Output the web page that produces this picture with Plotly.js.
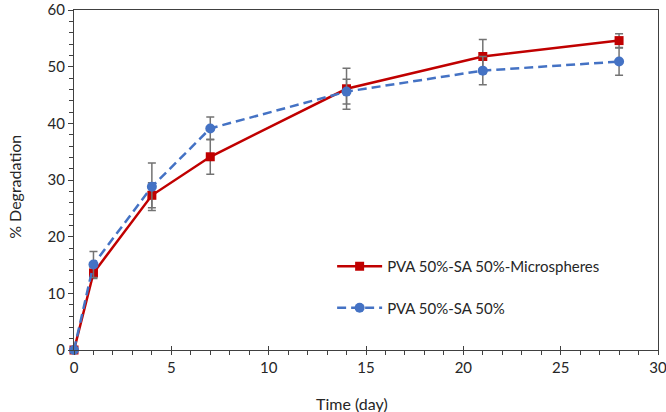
<!DOCTYPE html>
<html>
<head>
<meta charset="utf-8">
<script src="https://cdn.plot.ly/plotly-3.0.1.min.js"></script>
<style>
    html, body { margin: 0; padding: 0; background: #fff; }
    #chart { width: 666px; height: 412px; }
</style>
</head>
<body>
<div id="chart"></div>
<script>
// Data
const days = [0, 1, 4, 7, 14, 21, 28];

const microName = 'PVA 50%-SA 50%-Microspheres';
const microValues = [0, 13.6, 27.3, 34.1, 46.1, 51.8, 54.6];
const microErrors = [0, 1.0, 2.2, 3.1, 3.6, 3.0, 1.2];

const blendName = 'PVA 50%-SA 50%';
const blendValues = [0, 15.1, 28.8, 39.1, 45.6, 49.3, 50.9];
const blendErrors = [0, 2.3, 4.2, 2.0, 2.2, 2.5, 2.4];

const xTitle = 'Time (day)';
const yTitle = '% Degradation';

// Styling
const COLORS = {
    red: '#C00000',
    blue: '#4472C4',
    errorBar: '#737373',
    axis: '#404040',
    text: '#262626'
};
const FONT = 'Lato, "Open Sans", sans-serif';

function errorBars(values) {
    return {
        type: 'data',
        array: values,
        visible: true,
        color: COLORS.errorBar,
        thickness: 1.5,
        width: 4
    };
}

const traces = [
    {
        x: days,
        y: microValues,
        name: microName,
        legendgroup: 'a',
        type: 'scatter',
        mode: 'lines+markers',
        line: { color: COLORS.red, width: 2.5 },
        marker: { symbol: 'square', size: 9, color: COLORS.red },
        error_y: errorBars(microErrors),
        cliponaxis: false
    },
    {
        x: days,
        y: blendValues,
        name: blendName,
        legendgroup: 'b',
        type: 'scatter',
        mode: 'lines+markers',
        line: { color: COLORS.blue, width: 2.5, dash: '9px,5px' },
        marker: { symbol: 'circle', size: 10, color: COLORS.blue },
        error_y: errorBars(blendErrors),
        cliponaxis: false
    },
    // invisible trace to carry the crossing major ticks on the x axis
    {
        x: [0],
        y: [0],
        xaxis: 'x2',
        mode: 'markers',
        marker: { opacity: 0 },
        showlegend: false,
        hoverinfo: 'skip'
    }
];

const layout = {
    width: 666,
    height: 412,
    margin: { l: 74, r: 8, t: 10, b: 62 },
    paper_bgcolor: '#fff',
    plot_bgcolor: '#fff',
    font: { family: FONT, size: 15, color: COLORS.text },
    showlegend: true,
    legend: {
        x: 0.442,
        y: 0.294,
        xanchor: 'left',
        yanchor: 'top',
        bgcolor: 'rgba(0,0,0,0)',
        font: { family: FONT, size: 15, color: COLORS.text },
        traceorder: 'grouped',
        tracegroupgap: 19,
        itemwidth: 45
    },
    xaxis: {
        range: [0, 30],
        dtick: 5,
        showgrid: false,
        zeroline: false,
        showline: true,
        linecolor: COLORS.axis,
        linewidth: 1,
        mirror: true,
        ticks: 'outside',
        ticklen: 4,
        tickcolor: COLORS.axis,
        minor: { dtick: 1, ticks: 'outside', ticklen: 4, tickcolor: COLORS.axis },
        tickfont: { size: 15 },
        ticklabeloverflow: 'allow'
    },
    xaxis2: {
        overlaying: 'x',
        anchor: 'y',
        side: 'bottom',
        range: [0, 30],
        dtick: 5,
        showgrid: false,
        zeroline: false,
        showline: false,
        showticklabels: false,
        ticks: 'inside',
        ticklen: 4,
        tickcolor: COLORS.axis
    },
    yaxis: {
        range: [0, 60],
        dtick: 10,
        showgrid: false,
        zeroline: false,
        showline: true,
        linecolor: COLORS.axis,
        linewidth: 1,
        mirror: true,
        ticks: 'outside',
        ticklen: 5,
        tickcolor: COLORS.axis,
        minor: { dtick: 2, ticks: 'outside', ticklen: 4, tickcolor: COLORS.axis },
        tickfont: { size: 15 },
        ticklabeloverflow: 'allow'
    },
    // axis titles sit where the original chart put them (not exactly centred)
    annotations: [
        {
            text: xTitle,
            xref: 'paper', yref: 'paper',
            x: 0.476, y: -0.156,
            xanchor: 'center', yanchor: 'middle',
            showarrow: false,
            font: { size: 16, color: COLORS.text }
        },
        {
            text: yTitle,
            xref: 'paper', yref: 'paper',
            x: -0.101, y: 0.48,
            xanchor: 'center', yanchor: 'middle',
            textangle: -90,
            showarrow: false,
            font: { size: 16, color: COLORS.text }
        }
    ]
};

Plotly.newPlot('chart', traces, layout, { displayModeBar: false, staticPlot: true });
</script>
</body>
</html>
